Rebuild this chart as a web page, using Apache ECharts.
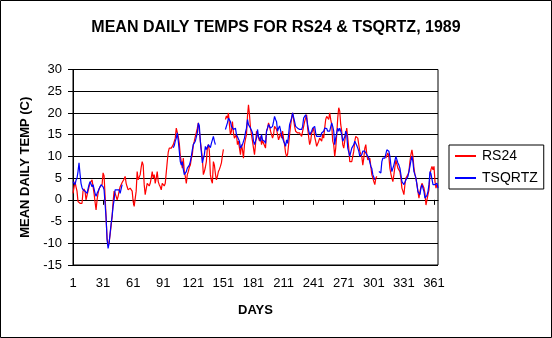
<!DOCTYPE html>
<html>
<head>
<meta charset="utf-8">
<script src="https://cdn.jsdelivr.net/npm/echarts@6/dist/echarts.min.js"></script>
<style>
html,body{margin:0;padding:0;background:#fff;}
#chart{width:552px;height:338px;}
</style>
</head>
<body>
<div id="chart"></div>
<script>
// Day numbers 1..365 (category axis)
const days = [];
for (let d = 1; d <= 365; d++) days.push(String(d));
const xTickLabels = ['1','31','61','91','121','151','181','211','241','271','301','331','361'];
const yTicks = [-15,-10,-5,0,5,10,15,20,25,30];

// RS24 mean daily temperature (C), day 1..365
const rs24 = [
1.5,1.5,4.2,3,2,-0.4,-0.6,-0.8,-0.5,-0.8,
2,2.5,2,0,1,2,3,3.8,4,4.6,
4.6,1.5,-0.5,-2.3,0,1.5,2.5,3,3.2,3.5,
6.2,5.5,0.8,-4,-9,-10.5,-9.8,-8,-6,-3.8,
-0.4,2,1.5,0.8,0,0.8,2,3,3.5,4,
4.2,4.8,5.4,3.8,3,2.3,2.5,2.7,2.3,2,
-0.4,-1.5,-1.5,2,6.5,4.6,5,5.8,7.5,8.8,
8,3.5,1.2,2.5,3.8,3.5,3.2,3.8,5,6.5,
5,5.8,3.8,5,6.5,4.2,3.5,3,2.3,3.8,
3.5,3.2,3.8,3.5,8.8,11,11.9,12.3,11.9,12.3,
12.7,12.7,14.2,16.5,16.5,14.5,13,10.2,8.8,7.3,
9.6,6.5,5.4,3.8,5.8,6.5,7.5,8,9.5,10.4,
12.7,13.5,14.6,15.5,16.5,17.7,15.8,13.5,11.5,9.6,
5.8,6.5,7.5,8.8,11.9,12.7,11.2,5.8,4.5,3.8,
8.8,8,6,4.6,5.4,6.5,7,7.7,8.5,10.2,
11.6,null,18.5,19.3,18.8,20,17.3,15,15.8,18,
15.4,14.2,14.5,15,12.7,13.5,11.9,10.4,12.7,11.5,
9.6,12.7,14,15,19.2,21.9,19.6,16.5,15,13.5,
11.9,10.4,12.7,15.8,15,14.6,13.5,14.6,12.7,13.8,
13,12.7,11.9,15.8,16.5,17.7,16.9,15.8,15,14.2,
15,16.9,16.5,16.2,15,13.8,14.5,15.4,14.2,15.8,
14,12.7,10.8,10,10.5,12.7,15,17,18.8,20,
19.6,16.9,15.8,15.5,15.4,15,15.4,15,14.6,15,
16.9,18,18.8,19.6,16.5,14.5,12.7,13.5,15.4,15.4,
16.5,14.5,13.5,12.3,12.7,13.5,14.2,14,13.5,15,
14.2,16.5,18.5,19.2,18.8,18.5,20,18.5,17.3,13.5,
12.7,10,11.9,15,18.8,21.2,20.4,17.3,15.8,12.7,
11.9,13.5,15,16.5,14.2,11.9,8.8,9.2,8.8,10,
11.2,13.5,14.6,14.4,14.2,12.7,11.2,10.5,10,8,
9.6,11.9,12.7,10.4,9.2,9.4,9.6,7.7,5.8,5.4,
4.2,3.5,5,5.4,null,null,null,null,null,null,
null,null,9.6,10.2,10.8,10,7.3,6,5,4.2,
5.8,7.5,9.2,8.8,7.3,7,6.5,5,2.7,2,
1.2,3.5,5,5.4,5.8,6.5,8.8,10.4,11.5,10,
7.3,5.8,5,3.5,1.9,0.4,1.9,3,3.8,4.2,
2.7,1.5,-1.2,0,1.2,2.3,5.8,7,7.7,6.9,
7.7,4.2,2.7,3.5,3.1
];

// TSQRTZ mean daily temperature (C), day 1..365
const tsqrtz = [
4.2,4.2,3.5,4.5,5,6.5,8.5,6,3.8,2.8,
2.3,2.5,2,2,1.5,2.5,3.5,4.2,3.8,3,
3.5,2.5,1.5,0.8,1.5,2,2.3,3,3.5,3.8,
3,2.3,2.3,-4.2,-9.2,-11.2,-10,-7.7,-5.5,-3.8,
-1.5,0,2.3,2,2.3,2,2.3,1.5,2.5,3.5,
null,null,null,null,null,null,null,null,null,null,
null,null,null,null,null,null,null,null,null,null,
null,null,null,null,null,null,null,null,null,null,
null,null,null,null,null,null,null,null,null,null,
null,null,null,null,null,null,null,null,null,null,
12,12.5,13.5,14.2,15.4,13.5,11.2,8.8,8,8.8,
7,5.8,6.2,6.5,7.3,7.5,8,8.8,10,11.5,
12.7,13,13.5,14.5,15.4,17.7,17,13.5,11,8.5,
9.5,10.4,12.3,11.6,12,12.7,12.3,12,13,13.8,
14.6,13.5,12.7,null,null,null,null,null,null,null,
null,null,16.2,16.5,17.7,18.8,19,18,16.9,16.9,
16.2,15.8,16.5,15,14.5,14.2,13.5,11.9,12.3,12.7,
13,14.2,15.5,16.5,18.5,17.3,17.7,16.5,16,15.4,
13.5,12.7,13.5,14.2,16.2,14.6,14,13.5,15,13.8,
13.6,13.5,13,15.8,16.5,17.3,17.7,16.5,16.7,16.9,
18,19.2,18.5,18,15.8,16.5,17,17.3,15,14.2,
13.5,13,12.3,13.8,13,15,17.3,17.7,18.8,20,
19.6,18,16.9,16.7,16.5,16.9,16.2,16.2,16.2,16.9,
18.8,19.2,19.6,18.8,17.3,16,15,15.4,15.8,16.5,
16.5,16.9,15.4,14.6,14.2,14.6,15,14.6,15.4,15.6,
15.8,16.5,16.9,16.4,15.8,15.4,15.8,16.8,17.7,16.9,
15.8,12.7,14.2,15.4,16.5,15.8,16.5,15.8,15,13.5,
13.1,14.5,15.8,15,11.9,11,10,9.6,11.9,12.3,
12.7,13.5,13.1,12.5,11.9,11.2,10,10.2,10.4,11.2,
11.5,11.2,10.8,10.4,10,9.6,9.2,7.7,7.2,5.8,
5.2,4.6,null,null,null,6.5,6.2,6.2,8.8,9.6,
9.2,9.6,10,11.5,11.9,11.2,10,8,6.5,6.2,
8,9,10,9.6,8.5,8,7.3,5.8,4.2,3.8,
3.5,3.8,4.6,5,5.4,6.5,7.7,9,10,8.8,
6.5,5.8,5,3.5,1.9,1.5,1.2,2.7,3.5,2.7,
1.9,0.4,0,1,1.9,3.5,6.5,6,5.8,3.5,
3.8,3.5,3.1,3.8,2.7
];

const chart = echarts.init(document.getElementById('chart'), null, {renderer: 'canvas'});
const FONT = 'Liberation Sans, Arial, sans-serif';

chart.setOption({
  animation: false,
  backgroundColor: '#ffffff',
  title: {
    text: 'MEAN DAILY TEMPS FOR RS24 & TSQRTZ, 1989',
    left: 'center',
    top: 15,
    textStyle: {fontFamily: FONT, fontSize: 16, fontWeight: 'bold', color: '#000'}
  },
  legend: {
    orient: 'vertical',
    left: 449,
    top: 145,
    padding: [4, 6, 4, 5],
    itemGap: 8,
    itemWidth: 21,
    itemHeight: 14,
    borderColor: '#000',
    borderWidth: 1,
    backgroundColor: '#fff',
    itemStyle: {opacity: 0},
    textStyle: {fontFamily: FONT, fontSize: 14, color: '#000', padding: [0,0,0,1]},
    data: ['RS24', 'TSQRTZ']
  },
  grid: {
    left: 73, right: 114, top: 69.5, bottom: 73,
    show: true, borderColor: '#000', borderWidth: 1, backgroundColor: '#fff'
  },
  xAxis: {
    type: 'category',
    data: days,
    boundaryGap: false,
    name: 'DAYS',
    nameLocation: 'middle',
    nameGap: 39,
    nameTextStyle: {fontFamily: FONT, fontSize: 13, fontWeight: 'bold', color: '#000'},
    axisLine: {lineStyle: {color: '#000', width: 1}},
    axisTick: {show: true, interval: 29, length: 5, lineStyle: {color: '#000'}},
    axisLabel: {
      interval: 29, margin: 12,
      fontFamily: FONT, fontSize: 13, color: '#000',
      formatter: v => (xTickLabels.indexOf(v) >= 0 ? v : '')
    },
    splitLine: {show: false}
  },
  yAxis: {
    type: 'value',
    min: yTicks[0],
    max: yTicks[yTicks.length - 1],
    interval: 5,
    name: 'MEAN DAILY TEMP (C)',
    nameLocation: 'middle',
    nameRotate: 90,
    nameGap: 32,
    nameTextStyle: {fontFamily: FONT, fontSize: 13, fontWeight: 'bold', color: '#000'},
    axisLine: {show: true, lineStyle: {color: '#000', width: 1}},
    axisTick: {show: true, length: 5, lineStyle: {color: '#000'}},
    axisLabel: {margin: 11, fontFamily: FONT, fontSize: 13, color: '#000'},
    splitLine: {show: true, lineStyle: {color: '#000', width: 1}}
  },
  graphic: [{
    type: 'rect',
    shape: {x: 0.5, y: 0.5, width: 551, height: 337},
    style: {fill: 'none', stroke: '#000', lineWidth: 1},
    silent: true, z: 100
  }],
  series: [
    {name: 'RS24', type: 'line', data: rs24, symbol: 'none', connectNulls: false,
     lineStyle: {color: '#ff0000', width: 1.2}, itemStyle: {color: '#ff0000'}},
    {name: 'TSQRTZ', type: 'line', data: tsqrtz, symbol: 'none', connectNulls: false,
     lineStyle: {color: '#0000ff', width: 1.2}, itemStyle: {color: '#0000ff'}}
  ]
});
</script>
</body>
</html>
